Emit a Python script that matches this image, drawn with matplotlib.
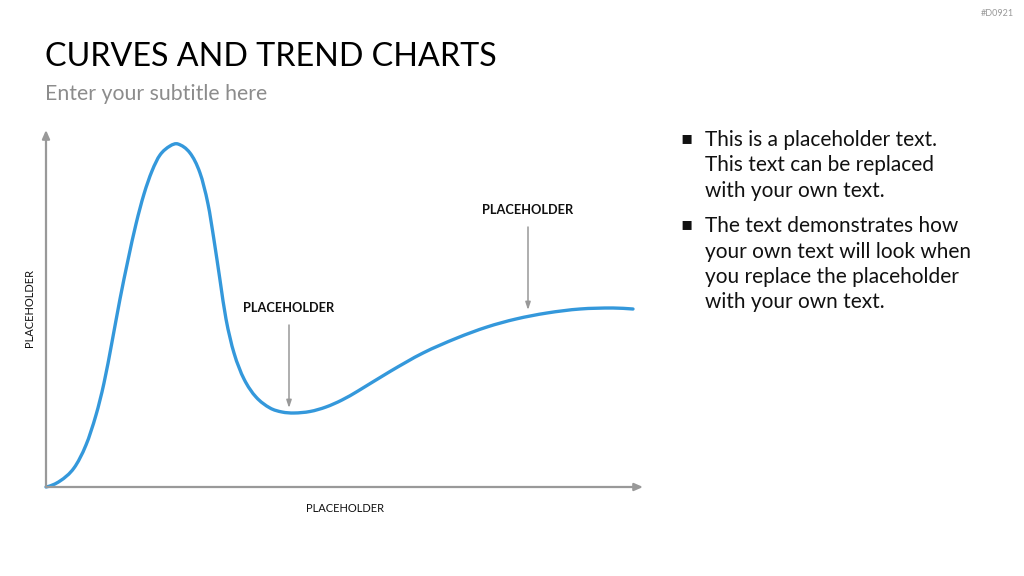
import matplotlib
matplotlib.use("Agg")
import matplotlib.pyplot as plt
import numpy as np
from matplotlib.path import Path
from matplotlib.patches import PathPatch

plt.rcParams['font.family'] = ['Lato', 'DejaVu Sans']

W, H = 1024, 576

# Curve (x: along the horizontal axis, y: height above it), axis units
curve_x = [0, 14, 28, 40, 50, 58, 66, 74, 82, 90, 98, 106, 114, 124, 132,
           144, 154, 162, 168, 174, 180, 188, 198, 210, 224, 236, 248,
           264, 280, 296, 312, 344, 377, 411, 441, 470, 501, 534, 567, 587]
curve_y = [0, 6, 19, 42, 72, 104, 145, 188, 227, 263, 293, 316, 332, 341, 343,
           334, 314, 283, 247, 207, 168, 134, 108, 90, 79, 75, 74,
           75.5, 80, 87, 96, 115.5, 134, 149, 160, 168, 174, 178, 179, 178]

ann_labels = ["PLACEHOLDER", "PLACEHOLDER"]
ann_x = [243, 482]
ann_y_tip = [79, 177]

x_label = "PLACEHOLDER"
y_label = "PLACEHOLDER"
title = "CURVES AND TREND CHARTS"
subtitle = "Enter your subtitle here"
tag = "#D0921"
bullets = [
    ["This is a placeholder text.", "This text can be replaced", "with your own text."],
    ["The text demonstrates how", "your own text will look when", "you replace the placeholder", "with your own text."],
]

fig = plt.figure(figsize=(W / 100, H / 100), dpi=100)
fig.patch.set_facecolor("white")

def fx(px):
    return px / W

def fy(py):
    return 1 - py / H

# axes covering the plotting region: origin at pixel (46,487), top-right (643,130)
x0, y0, x1, y1 = 46, 487, 643, 130
ax = fig.add_axes([fx(x0), fy(y0), fx(x1) - fx(x0), fy(y1) - fy(y0)])
ax.set_xlim(0, x1 - x0)
ax.set_ylim(0, y0 - y1)
ax.axis("off")

axis_col = "#999999"
for end in [(x1 - x0, 0), (0, y0 - y1)]:
    ax.annotate("", xy=end, xytext=(0, 0), xycoords="data",
                arrowprops=dict(arrowstyle="-|>,head_length=0.5,head_width=0.22", color=axis_col,
                                lw=1.6, shrinkA=0, shrinkB=0), annotation_clip=False)

# smooth curve through the read points: cubic Hermite segments drawn as Bezier path
X = np.asarray(curve_x, float)
Y = np.asarray(curve_y, float)
n = len(X)
m = np.zeros(n)
for i in range(n):
    if i == 0:
        m[i] = 0.2
    elif i == n - 1:
        m[i] = (Y[-1] - Y[-2]) / (X[-1] - X[-2])
    else:
        m[i] = (Y[i + 1] - Y[i - 1]) / (X[i + 1] - X[i - 1])
verts = [(X[0], Y[0])]
codes = [Path.MOVETO]
for i in range(n - 1):
    h = X[i + 1] - X[i]
    verts += [(X[i] + h / 3, Y[i] + m[i] * h / 3),
              (X[i + 1] - h / 3, Y[i + 1] - m[i + 1] * h / 3),
              (X[i + 1], Y[i + 1])]
    codes += [Path.CURVE4] * 3
patch = PathPatch(Path(verts, codes), facecolor="none", edgecolor="#3498db", lw=2.4,
                  joinstyle="round", capstyle="round", clip_on=False)
ax.add_patch(patch)

for lab, ax_x, tip in zip(ann_labels, ann_x, ann_y_tip):
    ax.annotate("", xy=(ax_x, tip), xytext=(ax_x, tip + 83),
                arrowprops=dict(arrowstyle="-|>,head_length=0.45,head_width=0.15", color=axis_col,
                                lw=1.1, shrinkA=0, shrinkB=0))
    ax.text(ax_x, tip + 100, lab, ha="center", va="center", fontsize=9.2,
            fontweight="bold", color="#111111")

fig.text(fx(345), fy(509), x_label, ha="center", va="center", fontsize=8, color="#111111")
fig.text(fx(29), fy(308), y_label, ha="center", va="center", fontsize=8, color="#111111",
         rotation=90)

fig.text(fx(45), fy(57), title, ha="left", va="center", fontsize=23.2, color="#000000")
fig.text(fx(45), fy(94), subtitle, ha="left", va="center", fontsize=15.3, color="#8c8c8c")
fig.text(fx(1014), fy(14), tag, ha="right", va="center", fontsize=6.5, color="#999999")

line_h = 25.3
py = 140
for group in bullets:
    fig.text(fx(687), fy(py - 2), "\u25aa", ha="center", va="center", fontsize=13, color="#111111",
             family=["DejaVu Sans"])
    for ln in group:
        fig.text(fx(705), fy(py), ln, ha="left", va="center", fontsize=15, color="#111111")
        py += line_h
    py += 10.5

fig.savefig("out.png", dpi=100, facecolor="white")
